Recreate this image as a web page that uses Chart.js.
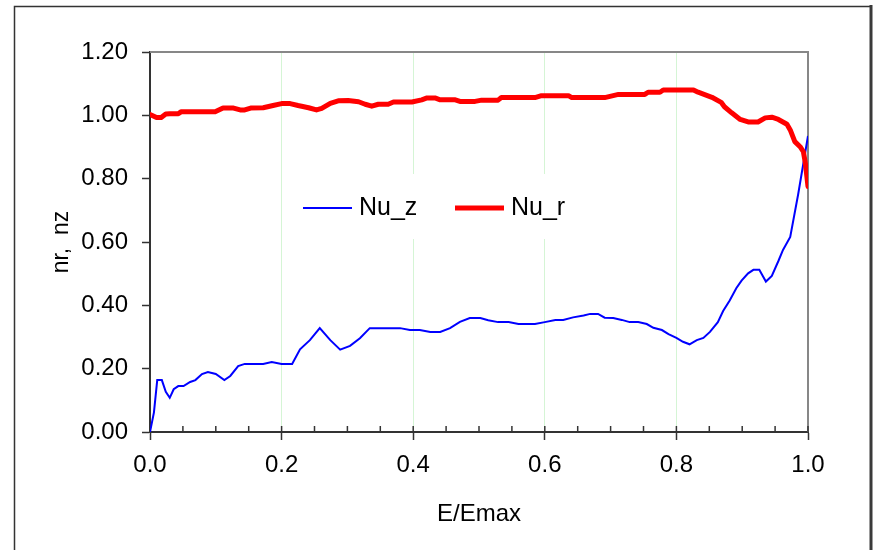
<!DOCTYPE html>
<html>
<head>
<meta charset="utf-8">
<script src="https://cdn.jsdelivr.net/npm/chart.js@4.4.1/dist/chart.umd.min.js"></script>
<style>
  body { margin: 0; background: #fff; }
  canvas { display: block; }
</style>
</head>
<body>
<canvas id="nuChart" width="879" height="550"></canvas>
<script>
// series (E/Emax, value)
var nuzE = [0, .006, .011, .018, .024, .030, .036, .043, .051, .061, .069, .079, .088, .100, .113, .122, .134, .144, .172, .185, .200, .216, .228, .243, .258, .274, .289, .304, .319, .334, .380, .395, .410, .426, .441, .456, .471, .486, .502, .514, .529, .545, .560, .585, .600, .616, .628, .643, .659, .669, .681, .691, .704, .717, .729, .742, .755, .765, .778, .788, .800, .810, .820, .831, .841, .851, .863, .871, .881, .891, .899, .909, .917, .926, .936, .945, .955, .962, .973, .985, 1.0];
var nuzV = [0, .062, .164, .164, .127, .108, .135, .145, .145, .158, .164, .183, .189, .183, .164, .177, .208, .215, .215, .221, .215, .215, .261, .290, .328, .290, .260, .272, .296, .328, .328, .322, .322, .316, .316, .328, .348, .360, .360, .353, .347, .347, .341, .341, .347, .354, .354, .362, .368, .373, .373, .361, .360, .354, .347, .347, .341, .329, .322, .309, .297, .285, .277, .290, .297, .316, .347, .382, .415, .454, .478, .501, .512, .512, .475, .493, .540, .575, .616, .75, .935];

var nurE = [0, .005, .010, .017, .024, .030, .043, .047, .099, .111, .127, .137, .144, .153, .172, .187, .200, .213, .225, .241, .253, .261, .274, .286, .301, .317, .327, .337, .347, .362, .370, .398, .413, .421, .433, .441, .464, .471, .494, .504, .529, .534, .585, .595, .636, .641, .691, .712, .752, .757, .775, .780, .826, .833, .854, .868, .873, .884, .897, .909, .924, .935, .945, .955, .968, .973, .980, .988, .993, .996, 1.0];
var nurV = [1.003, .998, .993, .993, 1.004, 1.005, 1.005, 1.011, 1.011, 1.023, 1.023, 1.017, 1.017, 1.023, 1.024, 1.031, 1.037, 1.037, 1.031, 1.024, 1.017, 1.022, 1.038, 1.046, 1.047, 1.043, 1.035, 1.029, 1.035, 1.035, 1.042, 1.042, 1.049, 1.055, 1.055, 1.049, 1.049, 1.044, 1.044, 1.048, 1.048, 1.056, 1.056, 1.062, 1.062, 1.056, 1.056, 1.066, 1.066, 1.073, 1.073, 1.080, 1.080, 1.073, 1.057, 1.041, 1.027, 1.008, .987, .979, .979, .992, .994, .987, .972, .954, .917, .901, .885, .849, .775];

var seriesNames = ["Nu_z", "Nu_r"];
var xTitle = "E/Emax";
var yTitle = "nr,  nz";

var FONT = "'Liberation Sans', Arial, sans-serif";

function toPoints(xs, ys) {
    var pts = [];
    for (var i = 0; i < xs.length; i++) pts.push({x: xs[i], y: ys[i]});
    return pts;
}

function isMajor(v) {
    return Math.abs(v * 5 - Math.round(v * 5)) < 1e-6;
}

// outer frame, plot border, inner ticks and the legend box
var decorations = {
    id: 'decorations',
    beforeDraw: function(chart) {
        var c = chart.ctx;
        c.save();
        c.fillStyle = '#fff';
        c.fillRect(0, 0, chart.width, chart.height);
        c.strokeStyle = '#333';
        c.lineWidth = 1.5;
        c.beginPath();
        c.moveTo(14.5, 560);
        c.lineTo(14.5, 6.5);
        c.lineTo(870, 6.5);
        c.stroke();
        c.lineWidth = 3;
        c.strokeStyle = '#3a3a3a';
        c.beginPath();
        c.moveTo(871, 5);
        c.lineTo(871, 560);
        c.stroke();
        c.restore();
    },
    beforeDatasetsDraw: function(chart) {
        var a = chart.chartArea, c = chart.ctx;
        c.save();
        // gray top and right border of the plot
        c.strokeStyle = '#878787';
        c.lineWidth = 2;
        c.beginPath();
        c.moveTo(a.left, a.top);
        c.lineTo(a.right, a.top);
        c.lineTo(a.right, a.bottom);
        c.stroke();
        // small ticks pointing into the plot on the x axis
        var xs = chart.scales.x;
        c.strokeStyle = '#333';
        c.lineWidth = 1.5;
        xs.ticks.forEach(function(t, i) {
            var px = xs.getPixelForTick(i);
            c.beginPath();
            c.moveTo(px, a.bottom - 6);
            c.lineTo(px, a.bottom);
            c.stroke();
        });
        // white legend box over the grid
        c.fillStyle = '#fff';
        c.fillRect(284, 174, 306, 65);
        c.restore();
    },
    afterDatasetsDraw: function(chart) {
        var c = chart.ctx;
        c.save();
        c.font = '25px ' + FONT;
        c.textBaseline = 'middle';
        c.fillStyle = '#000';
        var y = 208;
        var xs = [303, 455];
        // legend entries follow seriesNames order
        seriesNames.forEach(function(name, i) {
            var ds = chart.data.datasets.filter(function(d) { return d.label === name; })[0];
            c.strokeStyle = ds.borderColor;
            c.lineWidth = ds.borderWidth;
            c.beginPath();
            c.moveTo(xs[i], y);
            c.lineTo(xs[i] + 49, y);
            c.stroke();
            c.fillText(name, xs[i] + 56, y);
        });
        c.restore();
    }
};

var chart = new Chart(document.getElementById('nuChart').getContext('2d'), {
    type: 'scatter',
    data: {
        datasets: [{
            label: seriesNames[0],
            data: toPoints(nuzE, nuzV),
            showLine: true,
            borderColor: '#0000ff',
            borderWidth: 2,
            pointRadius: 0,
            tension: 0,
            order: 2
        }, {
            label: seriesNames[1],
            data: toPoints(nurE, nurV),
            showLine: true,
            borderColor: '#ff0000',
            borderWidth: 5,
            borderJoinStyle: 'round',
            borderCapStyle: 'round',
            pointRadius: 0,
            tension: 0,
            order: 1
        }]
    },
    options: {
        responsive: false,
        animation: false,
        layout: { padding: { top: 52, right: 71, left: 0, bottom: 0 } },
        plugins: {
            legend: { display: false },
            tooltip: { enabled: false }
        },
        scales: {
            x: {
                type: 'linear',
                min: 0,
                max: 1,
                afterFit: function(s) { s.height = 118; },
                border: { color: '#333', width: 2 },
                grid: {
                    color: function(ctx) {
                        if (!ctx.tick) return 'rgba(0,0,0,0)';
                        var v = ctx.tick.value;
                        return (isMajor(v) && v > 0.01 && v < 0.99) ? '#d5f5d5' : 'rgba(0,0,0,0)';
                    },
                    tickColor: function(ctx) {
                        return (ctx.tick && isMajor(ctx.tick.value)) ? '#333' : 'rgba(0,0,0,0)';
                    },
                    tickLength: 8,
                    tickWidth: 1.5,
                    lineWidth: 1
                },
                ticks: {
                    stepSize: 0.05,
                    autoSkip: false,
                    maxRotation: 0,
                    padding: 11,
                    color: '#000',
                    font: { family: FONT, size: 24 },
                    callback: function(v) { return isMajor(v) ? v.toFixed(1) : ''; }
                },
                title: {
                    display: true,
                    text: xTitle,
                    color: '#000',
                    font: { family: FONT, size: 24 },
                    padding: { top: 0, bottom: 21 }
                }
            },
            y: {
                min: 0,
                max: 1.2,
                afterFit: function(s) { s.width = 150; },
                border: { color: '#333', width: 2 },
                grid: {
                    drawOnChartArea: false,
                    tickLength: 8,
                    tickColor: '#333',
                    tickWidth: 1.5
                },
                ticks: {
                    stepSize: 0.2,
                    padding: 14,
                    color: '#000',
                    font: { family: FONT, size: 24 },
                    callback: function(v) { return v.toFixed(2); }
                },
                title: {
                    display: true,
                    text: yTitle,
                    color: '#000',
                    font: { family: FONT, size: 23 },
                    padding: { top: 48, bottom: 0 }
                }
            }
        }
    },
    plugins: [decorations]
});
</script>
</body>
</html>
